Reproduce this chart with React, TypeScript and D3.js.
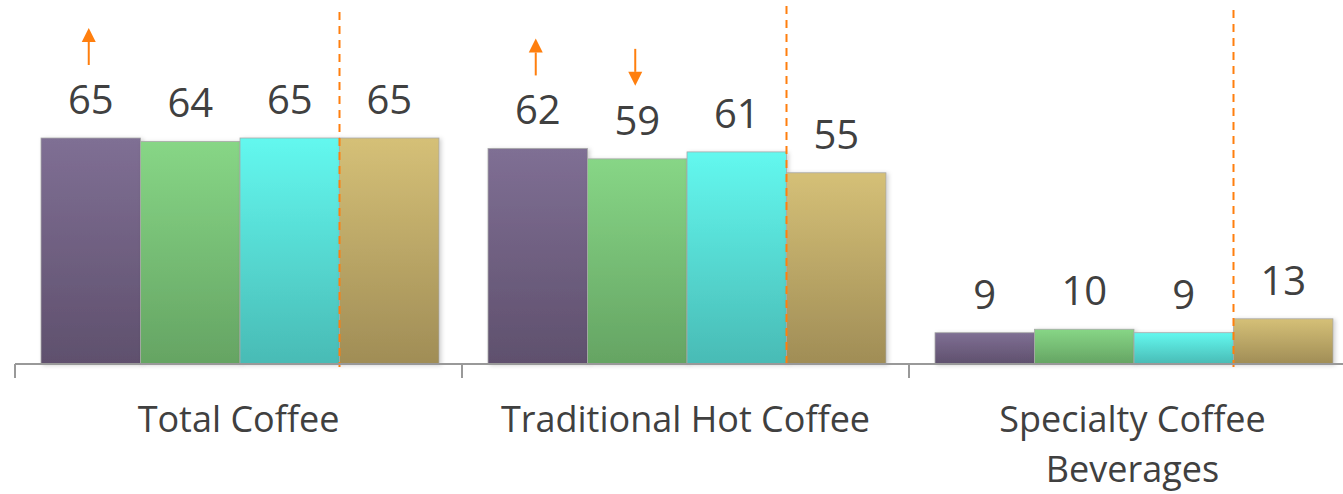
import React from "react";
import * as d3 from "d3";

const categories = ["Total Coffee", "Traditional Hot Coffee", "Specialty Coffee Beverages"];
const categoryLines = [["Total Coffee"], ["Traditional Hot Coffee"], ["Specialty Coffee", "Beverages"]];
const seriesNames = ["S1", "S2", "S3", "S4"];
const totalCoffee = [65, 64, 65, 65];
const traditionalHot = [62, 59, 61, 55];
const specialty = [9, 10, 9, 13];
const values = [totalCoffee, traditionalHot, specialty];
// arrows: [categoryIndex, seriesIndex, direction]
const arrows: [number, number, "up" | "down"][] = [
  [0, 0, "up"],
  [1, 0, "up"],
  [1, 1, "down"],
];
const dashTops = [12, 6, 10];

const colorsTop = ["#7f6f94", "#87d686", "#63f8ef", "#d5c077"];
const colorsBottom = ["#5f506d", "#65a463", "#49bbb5", "#a08d56"];

const W = 1343;
const H = 494;
const baseline = 364;

export default function App() {
  const x0 = d3.scaleBand<string>().domain(categories).range([15, 15 + 447 * 3]).paddingInner(0).paddingOuter(0);
  const x1 = d3.scaleBand<string>().domain(seriesNames).range([26, 26 + 398]).padding(0);
  const y = d3.scaleLinear().domain([0, 65]).range([baseline, 138]);
  const font = "'Open Sans', sans-serif";
  const textColor = "#404040";

  return (
    <svg width={W} height={H} style={{ position: "absolute", left: 0, top: 0 }} fontFamily={font}>
      <defs>
        {colorsTop.map((c, i) => (
          <linearGradient key={i} id={`g${i}`} x1="0" y1="0" x2="0" y2="1">
            <stop offset="0%" stopColor={c} />
            <stop offset="100%" stopColor={colorsBottom[i]} />
          </linearGradient>
        ))}
        <filter id="sh" x="-10%" y="-10%" width="130%" height="130%">
          <feDropShadow dx="2" dy="1" stdDeviation="2" floodColor="#000" floodOpacity="0.18" />
        </filter>
      </defs>
      {categories.map((cat, ci) => {
        const gx = x0(cat)!;
        return (
          <g key={cat}>
            {values[ci].map((v, si) => {
              const bx = gx + x1(seriesNames[si])!;
              return (
                <rect
                  key={si}
                  x={bx}
                  y={y(v)}
                  width={x1.bandwidth()}
                  height={baseline - y(v)}
                  fill={`url(#g${si})`}
                  stroke="#a8a8a8"
                  strokeWidth={0.8}
                  filter="url(#sh)"
                />
              );
            })}
            {values[ci].map((v, si) => {
              const cx = gx + x1(seriesNames[si])! + x1.bandwidth() / 2;
              return (
                <text key={si} x={cx} y={y(v) - 24} textAnchor="middle" fontSize={40} fill={textColor}>
                  {v}
                </text>
              );
            })}
            <line
              x1={gx + x1(seriesNames[3])!}
              x2={gx + x1(seriesNames[3])!}
              y1={dashTops[ci]}
              y2={baseline + 3}
              stroke="#ff7f0e"
              strokeWidth={2}
              strokeDasharray="8,6"
            />
            {categoryLines[ci].map((ln, li) => (
              <text
                key={li}
                x={gx + x0.bandwidth() / 2}
                y={432 + li * 50}
                textAnchor="middle"
                fontSize={36}
                fill={textColor}
              >
                {ln}
              </text>
            ))}
          </g>
        );
      })}
      <line x1={15} x2={W} y1={baseline} y2={baseline} stroke="#999" strokeWidth={2} />
      {categories.map((cat) => (
        <line key={cat} x1={x0(cat)!} x2={x0(cat)!} y1={baseline} y2={baseline + 14} stroke="#999" strokeWidth={2} />
      ))}
      {arrows.map(([ci, si, dir], i) => {
        const cx = x0(categories[ci])! + x1(seriesNames[si])! + x1.bandwidth() / 2 - 2;
        const v = values[ci][si];
        const bottom = y(v) - 24 - 29 - 20;
        const top = bottom - 37;
        const head = 14;
        if (dir === "up") {
          return (
            <g key={i} fill="#ff7f0e" stroke="#ff7f0e">
              <line x1={cx} x2={cx} y1={top + head} y2={bottom} strokeWidth={2} />
              <path d={`M${cx - 7},${top + head} L${cx + 7},${top + head} L${cx},${top} Z`} stroke="none" />
            </g>
          );
        }
        return (
          <g key={i} fill="#ff7f0e" stroke="#ff7f0e">
            <line x1={cx} x2={cx} y1={top} y2={bottom - head} strokeWidth={2} />
            <path d={`M${cx - 7},${bottom - head} L${cx + 7},${bottom - head} L${cx},${bottom} Z`} stroke="none" />
          </g>
        );
      })}
    </svg>
  );
}
